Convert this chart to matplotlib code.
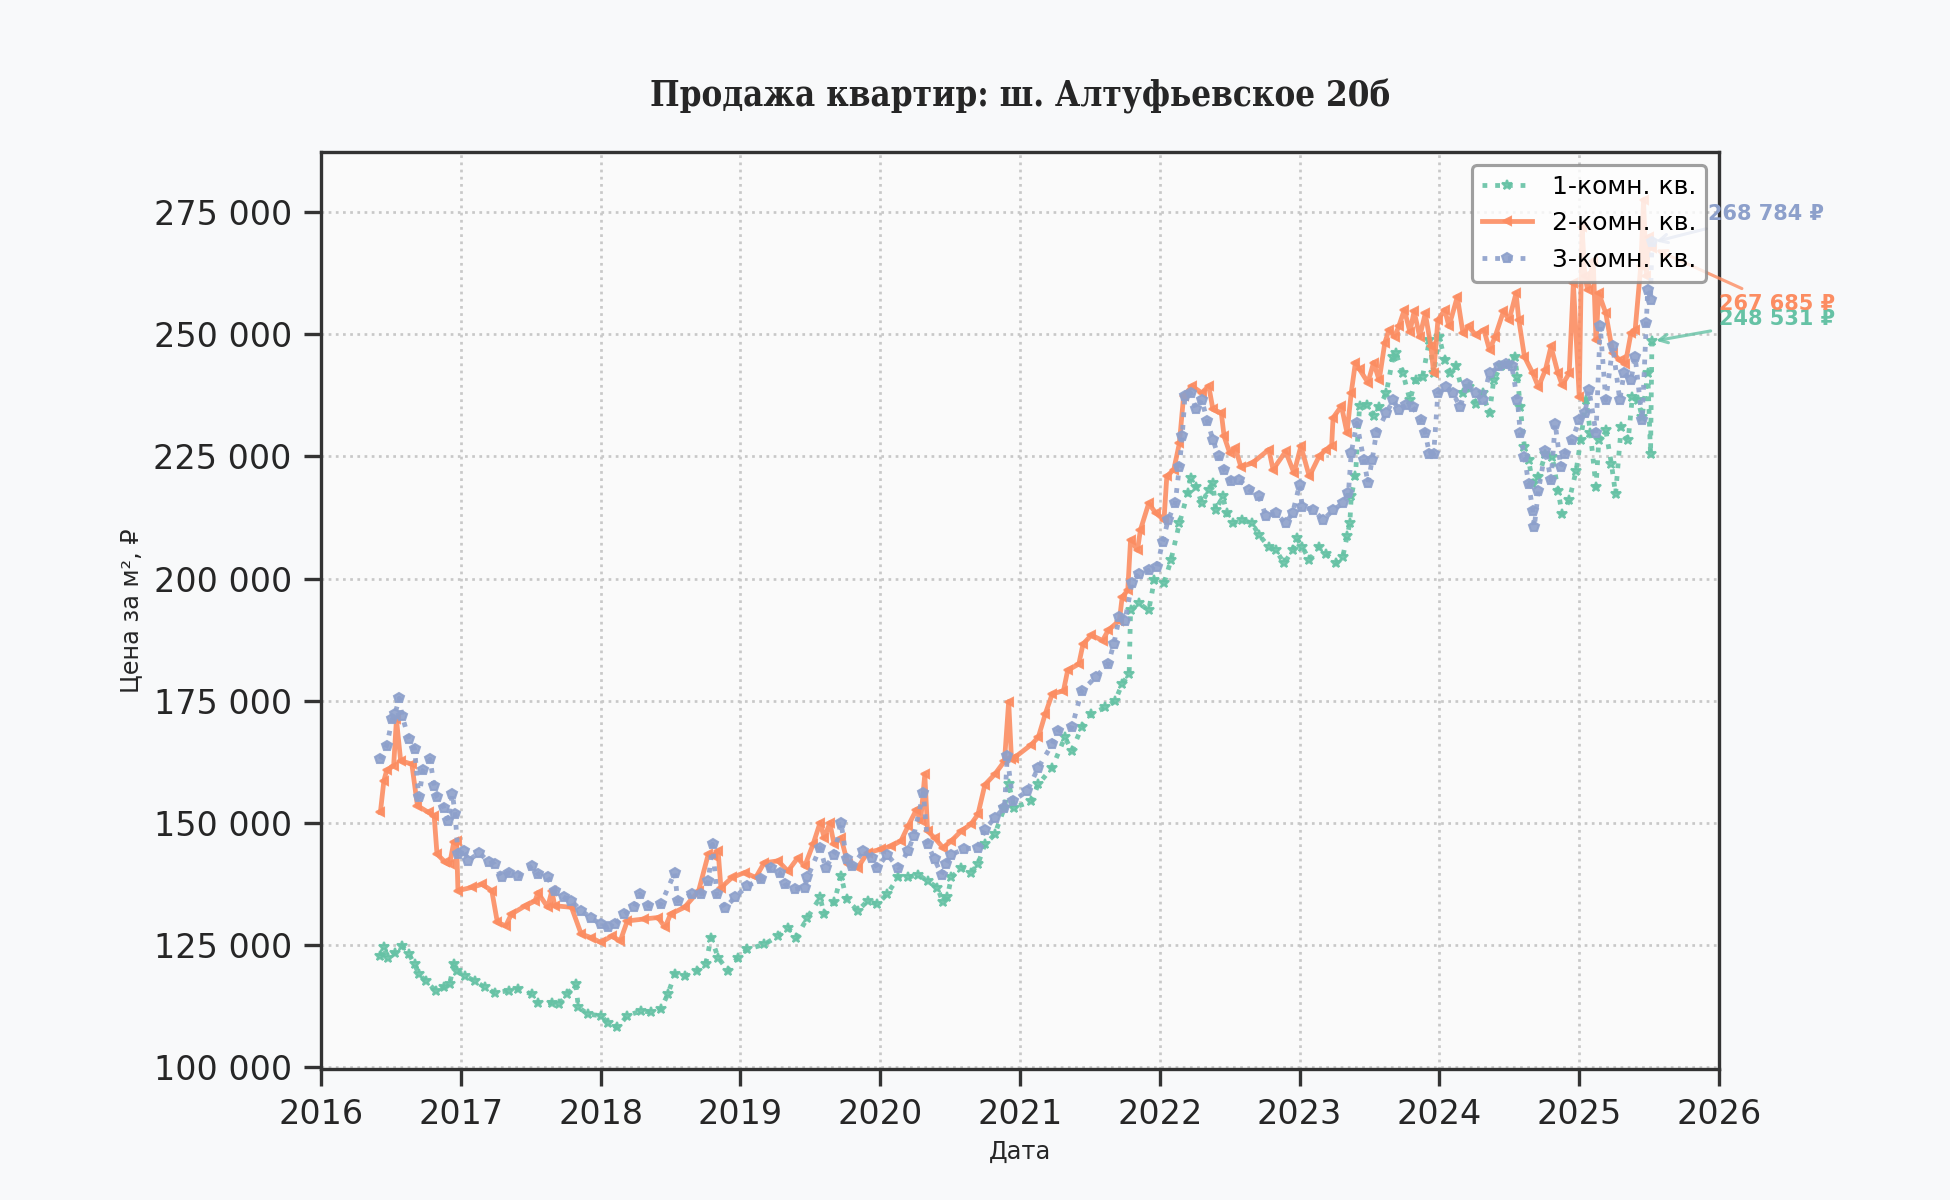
import numpy as np
import pandas as pd
import matplotlib
matplotlib.use("Agg")
import matplotlib.pyplot as plt
import matplotlib.ticker as mticker
import matplotlib.dates as mdates

# decimal years, values in rubles per m2
years_1k = [2016.425, 2016.45, 2016.48, 2016.53, 2016.58, 2016.63, 2016.67, 2016.70, 2016.75, 2016.82,
            2016.88, 2016.92, 2016.95, 2016.97, 2017.03, 2017.10, 2017.17, 2017.24, 2017.34, 2017.41,
            2017.51, 2017.55, 2017.65, 2017.70, 2017.76, 2017.82, 2017.84, 2017.91, 2018.00, 2018.05,
            2018.12, 2018.19, 2018.29, 2018.36, 2018.43, 2018.48, 2018.53, 2018.60, 2018.69, 2018.75,
            2018.79, 2018.84, 2018.91, 2018.98, 2019.05, 2019.17, 2019.27, 2019.34, 2019.40, 2019.48,
            2019.57, 2019.60, 2019.67, 2019.72, 2019.76, 2019.84, 2019.91, 2019.98, 2020.05, 2020.13,
            2020.20, 2020.27, 2020.34, 2020.41, 2020.45, 2020.48, 2020.51, 2020.58, 2020.65, 2020.70,
            2020.75, 2020.82, 2020.89, 2020.92, 2020.96, 2021.08, 2021.13, 2021.23, 2021.32, 2021.37,
            2021.44, 2021.51, 2021.61, 2021.68, 2021.73, 2021.78, 2021.79, 2021.85, 2021.92, 2021.96,
            2022.03, 2022.08, 2022.14, 2022.20, 2022.22, 2022.26, 2022.30, 2022.35, 2022.38, 2022.40,
            2022.45, 2022.48, 2022.52, 2022.59, 2022.66, 2022.71, 2022.78, 2022.83, 2022.89, 2022.95,
            2022.98, 2023.02, 2023.07, 2023.14, 2023.19, 2023.26, 2023.31, 2023.34, 2023.36, 2023.37,
            2023.40, 2023.43, 2023.48, 2023.53, 2023.57, 2023.62, 2023.67, 2023.69, 2023.74, 2023.79,
            2023.83, 2023.88, 2023.93, 2023.96, 2024.00, 2024.04, 2024.08, 2024.12, 2024.17, 2024.21,
            2024.26, 2024.31, 2024.36, 2024.39, 2024.44, 2024.50, 2024.54, 2024.56, 2024.58, 2024.61,
            2024.64, 2024.67, 2024.71, 2024.76, 2024.81, 2024.85, 2024.88, 2024.93, 2024.98, 2025.01,
            2025.05, 2025.08, 2025.12, 2025.14, 2025.19, 2025.23, 2025.26, 2025.30, 2025.35, 2025.38,
            2025.42, 2025.45, 2025.49, 2025.51, 2025.52]
price_1k = [122700, 124500, 122400, 123400, 124800, 123100, 121000, 119000, 117600, 115600,
            116300, 116900, 121000, 119700, 118600, 117600, 116300, 115200, 115600, 115900,
            114900, 113200, 113200, 112800, 114900, 116900, 112200, 110800, 110500, 109100,
            108100, 110500, 111500, 111200, 111900, 114900, 119000, 118600, 119700, 121000,
            126500, 122400, 119700, 122400, 124100, 125100, 126800, 128500, 126500, 130600,
            134700, 131300, 133700, 139100, 134300, 132000, 134000, 133300, 135400, 138800,
            138800, 139400, 138100, 136700, 133700, 134700, 138800, 140800, 139800, 141500,
            145600, 147600, 153100, 158000, 153100, 154400, 157900, 161300, 167500, 164700,
            169500, 172300, 173600, 175000, 178400, 180500, 193500, 194900, 193500, 199700,
            199000, 203800, 211300, 217500, 220500, 218800, 215400, 218200, 219500, 214000,
            216800, 213400, 211300, 212000, 211300, 208900, 206500, 205800, 203100, 205800,
            208200, 206500, 203800, 206500, 205100, 203100, 204500, 208600, 211300, 216800,
            220900, 235300, 235600, 233200, 235100, 237900, 245400, 246100, 242000, 236500,
            240600, 241300, 248800, 242000, 249500, 244700, 242000, 243400, 237900, 239200,
            235800, 237900, 233800, 240600, 243400, 244000, 245400, 241300, 235100, 226900,
            224200, 219400, 220800, 225500, 224900, 218000, 213200, 216000, 222100, 228300,
            236500, 229700, 218700, 228300, 230300, 223500, 217300, 231000, 228300, 237200,
            236500, 233100, 242000, 225500, 248531]

years_2k = [2016.425, 2016.45, 2016.47, 2016.52, 2016.54, 2016.57, 2016.65, 2016.69, 2016.77, 2016.81,
            2016.83, 2016.89, 2016.92, 2016.95, 2016.97, 2016.98, 2017.08, 2017.15, 2017.22, 2017.26,
            2017.32, 2017.36, 2017.46, 2017.53, 2017.55, 2017.62, 2017.65, 2017.67, 2017.79, 2017.86,
            2017.93, 2018.00, 2018.08, 2018.14, 2018.19, 2018.31, 2018.41, 2018.46, 2018.50, 2018.60,
            2018.70, 2018.77, 2018.80, 2018.84, 2018.86, 2018.94, 2019.03, 2019.11, 2019.17, 2019.27,
            2019.34, 2019.41, 2019.46, 2019.52, 2019.57, 2019.60, 2019.64, 2019.67, 2019.72, 2019.77,
            2019.84, 2019.91, 2020.01, 2020.08, 2020.15, 2020.20, 2020.26, 2020.29, 2020.32, 2020.34,
            2020.39, 2020.45, 2020.51, 2020.58, 2020.65, 2020.70, 2020.75, 2020.82, 2020.89, 2020.92,
            2020.94, 2020.96, 2021.08, 2021.13, 2021.18, 2021.23, 2021.31, 2021.34, 2021.42, 2021.45,
            2021.51, 2021.59, 2021.63, 2021.71, 2021.73, 2021.77, 2021.79, 2021.84, 2021.86, 2021.92,
            2021.97, 2022.03, 2022.05, 2022.10, 2022.14, 2022.17, 2022.23, 2022.30, 2022.35, 2022.38,
            2022.44, 2022.46, 2022.50, 2022.54, 2022.58, 2022.66, 2022.78, 2022.81, 2022.90, 2022.96,
            2023.01, 2023.07, 2023.14, 2023.19, 2023.23, 2023.24, 2023.30, 2023.34, 2023.37, 2023.40,
            2023.43, 2023.49, 2023.53, 2023.57, 2023.61, 2023.64, 2023.68, 2023.71, 2023.75, 2023.79,
            2023.82, 2023.86, 2023.90, 2023.94, 2023.96, 2023.99, 2024.04, 2024.07, 2024.13, 2024.17,
            2024.21, 2024.26, 2024.32, 2024.36, 2024.40, 2024.46, 2024.50, 2024.55, 2024.57, 2024.61,
            2024.67, 2024.71, 2024.76, 2024.80, 2024.85, 2024.88, 2024.93, 2024.96, 2025.00, 2025.02,
            2025.04, 2025.06, 2025.10, 2025.12, 2025.14, 2025.19, 2025.24, 2025.29, 2025.33, 2025.37,
            2025.40, 2025.44, 2025.46, 2025.48, 2025.50, 2025.52]
price_2k = [152100, 158600, 160700, 161700, 171200, 162700, 162000, 153500, 152100, 151400,
            143600, 141900, 141500, 146000, 146300, 136100, 136800, 137400, 136100, 129600,
            128900, 131300, 133000, 134000, 135700, 132700, 136100, 133000, 132700, 127200,
            126500, 125500, 126800, 125800, 129900, 130300, 130600, 128600, 131300, 132700,
            136000, 143600, 143200, 144200, 136700, 138800, 139800, 138800, 141800, 142200,
            140100, 142800, 141100, 145600, 150000, 146900, 150000, 145600, 146900, 141500,
            140800, 143900, 144600, 145200, 146300, 149300, 152700, 150300, 159900, 148300,
            146900, 144900, 146300, 148300, 149700, 151700, 157800, 159900, 162600, 174800,
            163000, 163300, 166000, 167500, 172300, 176400, 177000, 181200, 182500, 186600,
            188400, 187300, 189400, 191400, 196200, 197600, 207900, 205800, 209900, 215400,
            213400, 212000, 220900, 222300, 227700, 237300, 239400, 238000, 239400, 234600,
            233900, 229100, 225700, 226700, 222900, 223600, 226400, 222300, 226000, 221600,
            227100, 220900, 225000, 226400, 227100, 232900, 235300, 229800, 238000, 244200,
            242800, 240100, 244200, 240600, 248200, 250900, 249500, 251600, 255000, 250500,
            254700, 249500, 254300, 247500, 242000, 252900, 255000, 251600, 257700, 250200,
            251600, 249900, 250900, 246800, 249500, 254700, 252900, 258400, 252900, 245400,
            242000, 239200, 242700, 247500, 242000, 239600, 242000, 260500, 237200, 272000,
            262000, 259100, 265000, 248800, 258400, 254300, 246100, 244700, 244000, 250200,
            250900, 263900, 277500, 262000, 270000, 267685]

years_3k = [2016.425, 2016.47, 2016.51, 2016.53, 2016.56, 2016.58, 2016.63, 2016.67, 2016.70, 2016.73,
            2016.78, 2016.81, 2016.83, 2016.88, 2016.91, 2016.94, 2016.96, 2016.98, 2017.02, 2017.05,
            2017.13, 2017.20, 2017.24, 2017.29, 2017.34, 2017.41, 2017.51, 2017.55, 2017.62, 2017.67,
            2017.74, 2017.79, 2017.86, 2017.93, 2018.00, 2018.05, 2018.10, 2018.17, 2018.24, 2018.28,
            2018.34, 2018.43, 2018.53, 2018.55, 2018.65, 2018.72, 2018.77, 2018.80, 2018.83, 2018.89,
            2018.96, 2019.05, 2019.15, 2019.22, 2019.28, 2019.32, 2019.39, 2019.46, 2019.48, 2019.57,
            2019.61, 2019.67, 2019.72, 2019.76, 2019.80, 2019.88, 2019.94, 2019.98, 2020.05, 2020.13,
            2020.20, 2020.24, 2020.31, 2020.34, 2020.39, 2020.44, 2020.47, 2020.51, 2020.60, 2020.70,
            2020.75, 2020.82, 2020.89, 2020.91, 2020.95, 2021.05, 2021.13, 2021.23, 2021.27, 2021.37,
            2021.44, 2021.54, 2021.63, 2021.67, 2021.71, 2021.75, 2021.80, 2021.85, 2021.92, 2021.98,
            2022.02, 2022.06, 2022.11, 2022.14, 2022.16, 2022.18, 2022.22, 2022.26, 2022.30, 2022.34,
            2022.38, 2022.42, 2022.46, 2022.51, 2022.57, 2022.64, 2022.71, 2022.76, 2022.83, 2022.90,
            2022.95, 2023.00, 2023.02, 2023.10, 2023.17, 2023.24, 2023.31, 2023.35, 2023.37, 2023.41,
            2023.46, 2023.49, 2023.52, 2023.55, 2023.62, 2023.67, 2023.71, 2023.76, 2023.81, 2023.87,
            2023.90, 2023.93, 2023.96, 2023.99, 2024.05, 2024.10, 2024.15, 2024.20, 2024.26, 2024.31,
            2024.36, 2024.43, 2024.48, 2024.52, 2024.56, 2024.58, 2024.61, 2024.64, 2024.67, 2024.68,
            2024.71, 2024.76, 2024.80, 2024.83, 2024.87, 2024.90, 2024.95, 2025.00, 2025.04, 2025.07,
            2025.12, 2025.15, 2025.19, 2025.24, 2025.29, 2025.32, 2025.37, 2025.40, 2025.45, 2025.48,
            2025.49, 2025.51, 2025.52]
price_3k = [163000, 165800, 171200, 172300, 175500, 171900, 167100, 165100, 155200, 160700,
            163000, 157600, 155200, 153100, 150400, 155900, 151800, 143600, 144300, 142200,
            143900, 141900, 141500, 138800, 139800, 139100, 141200, 139500, 138800, 136100,
            134700, 134000, 132000, 130600, 129200, 128600, 129200, 131300, 132700, 135400,
            133000, 133300, 139800, 134000, 135400, 135400, 138100, 145600, 135400, 132600,
            134700, 137100, 138400, 140800, 139800, 137400, 136400, 136700, 138800, 144900,
            140800, 143500, 150000, 142500, 141100, 144200, 142800, 140800, 143500, 140800,
            144200, 147300, 156100, 145600, 142500, 139400, 141500, 143500, 144600, 144900,
            148600, 151000, 153100, 163600, 154400, 156500, 161300, 166100, 168800, 169500,
            177000, 179800, 182500, 186600, 192100, 191400, 199000, 201000, 201700, 202400,
            207500, 212000, 215400, 222900, 229100, 237300, 238000, 234600, 236600, 232200,
            228400, 225000, 222300, 219900, 220200, 218200, 216800, 212700, 213400, 211300,
            213400, 219200, 214700, 214000, 212000, 214000, 215400, 217500, 225700, 231800,
            224300, 219500, 224300, 229800, 233800, 236500, 234500, 235500, 235100, 232400,
            229700, 225500, 225500, 237900, 239200, 237900, 235100, 239900, 237900, 236500,
            242000, 243400, 244000, 243400, 236500, 229700, 224900, 219400, 213900, 210500,
            218000, 226200, 220100, 231700, 222800, 225500, 228300, 232400, 233800, 238600,
            229700, 251600, 236500, 247500, 236500, 242000, 240600, 245400, 232400, 252300,
            259100, 257100, 268784]

labels = ["1-комн. кв.", "2-комн. кв.", "3-комн. кв."]
colors = ["#66c2a5", "#fc8d62", "#8da0cb"]


def to_dates(years):
    out = []
    for y in years:
        y0 = int(y)
        start = pd.Timestamp(year=y0, month=1, day=1)
        out.append(start + pd.Timedelta(days=(y - y0) * 365.25))
    return out


fig = plt.figure(figsize=(13, 8), dpi=150, facecolor="#f8f9fa")
ax = fig.add_axes([0.1646, 0.1092, 0.7169, 0.7641])
ax.set_facecolor("#fafafa")

ax.plot(to_dates(years_1k), price_1k, linestyle=":", lw=2.3, marker="*", ms=5,
        color=colors[0], alpha=0.9, label=labels[0])
ax.plot(to_dates(years_2k), price_2k, linestyle="-", lw=2.3, marker="<", ms=4,
        color=colors[1], alpha=0.9, label=labels[1])
ax.plot(to_dates(years_3k), price_3k, linestyle=":", lw=2.3, marker="p", ms=5,
        color=colors[2], alpha=0.9, label=labels[2])

# last value labels
last_dates = [to_dates(years_1k)[-1], to_dates(years_2k)[-1], to_dates(years_3k)[-1]]
last_vals = [price_1k[-1], price_2k[-1], price_3k[-1]]
text_pos = [(2026.0, 253100), (2026.0, 256100), (2025.92, 274700)]
for i in range(3):
    ax.annotate(f"{last_vals[i]:,.0f} ₽".replace(",", " "),
                xy=(last_dates[i], last_vals[i]),
                xytext=(to_dates([text_pos[i][0]])[0], text_pos[i][1]),
                ha="left", va="center", fontsize=10, fontweight="bold",
                color=colors[i], annotation_clip=False,
                arrowprops=dict(arrowstyle="->", color=colors[i], lw=1.5, alpha=0.8))

ax.set_xlim(pd.Timestamp("2016-01-01"), pd.Timestamp("2026-01-01"))
ax.set_ylim(99600, 287300)
ax.xaxis.set_major_locator(mdates.YearLocator())
ax.xaxis.set_major_formatter(mdates.DateFormatter("%Y"))
ax.yaxis.set_major_locator(mticker.MultipleLocator(25000))
ax.yaxis.set_major_formatter(mticker.FuncFormatter(lambda v, p: f"{v:,.0f}".replace(",", " ")))

ax.grid(True, linestyle=":", color="#c8c8c8", lw=1.3)
for s in ax.spines.values():
    s.set_color("#333333")
    s.set_linewidth(1.6)
ax.tick_params(axis="both", which="major", length=8, width=1.6, color="#333333",
               labelsize=16, labelcolor="#262626", direction="out", pad=6)

ax.set_xlabel("Дата", fontsize=11.5, color="#262626", labelpad=4)
ax.set_ylabel("Цена за м², ₽", fontsize=11.5, color="#262626", labelpad=5)
ax.set_title("Продажа квартир: ш. Алтуфьевское 20б", fontsize=16.7, fontweight="bold",
             family=["DejaVu Serif Condensed", "DejaVu Serif"], fontstretch="condensed",
             color="#262626", pad=22)

leg = ax.legend(loc="upper right", fontsize=12, frameon=True, framealpha=0.8,
                edgecolor="#888888", fancybox=True)
leg.get_frame().set_linewidth(1.5)

fig.savefig("out.png", dpi=150, facecolor=fig.get_facecolor())
